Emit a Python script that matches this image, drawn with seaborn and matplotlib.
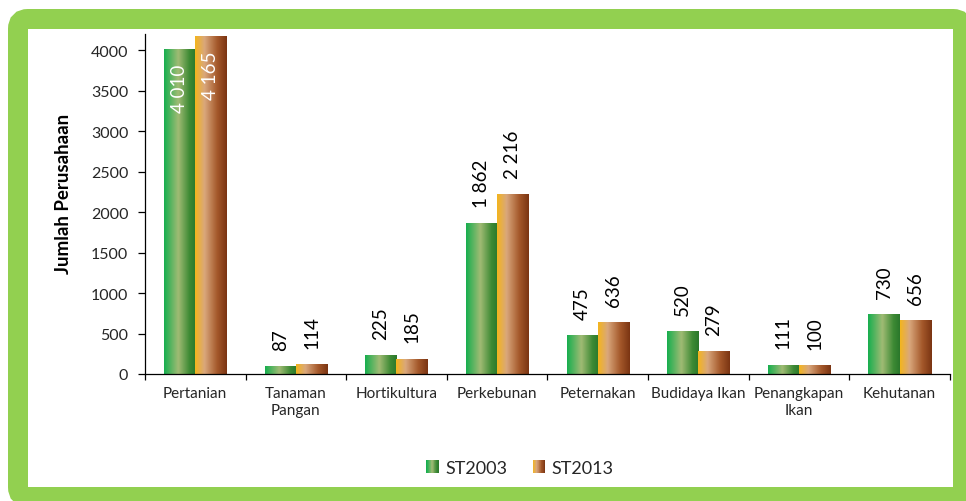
import numpy as np
import pandas as pd
import matplotlib
matplotlib.use("Agg")
import matplotlib.pyplot as plt
import seaborn as sns
from matplotlib.patches import FancyBboxPatch, Rectangle
from matplotlib.legend_handler import HandlerBase
from matplotlib.colors import LinearSegmentedColormap
from matplotlib.transforms import IdentityTransform

# --- data -------------------------------------------------------------
categories = ["Pertanian", "Tanaman\nPangan", "Hortikultura", "Perkebunan",
              "Peternakan", "Budidaya Ikan", "Penangkapan\nIkan", "Kehutanan"]
series = ["ST2003", "ST2013"]
st2003 = [4010, 87, 225, 1862, 475, 520, 111, 730]
st2013 = [4165, 114, 185, 2216, 636, 279, 100, 656]
y_ticks = [0, 500, 1000, 1500, 2000, 2500, 3000, 3500, 4000]
y_label = "Jumlah Perusahaan"

df = pd.DataFrame({
    "Kategori": categories * 2,
    "Sensus": [series[0]] * len(categories) + [series[1]] * len(categories),
    "Jumlah": st2003 + st2013,
})

# --- styling ----------------------------------------------------------
sns.set_theme(style="white")
plt.rcParams["font.family"] = ["Lato", "DejaVu Sans"]

green_cmap = LinearSegmentedColormap.from_list(
    "hijau", [(0.0, "#16ae4e"), (0.45, "#a0bb74"), (0.8, "#3d8a34"), (1.0, "#2a772b")])
orange_cmap = LinearSegmentedColormap.from_list(
    "jingga", [(0.0, "#f4b51c"), (0.3, "#d9a77c"), (0.7, "#a4582a"), (1.0, "#7a3412")])
cmaps = [green_cmap, orange_cmap]

fig = plt.figure(figsize=(9.66, 5.02), dpi=100)
fig.patch.set_facecolor("white")
ax = fig.add_axes([0.150, 0.253, 0.8334, 0.677])

sns.barplot(data=df, x="Kategori", y="Jumlah", hue="Sensus",
            order=categories, hue_order=series,
            palette=["#5aa84e", "#c07840"], saturation=1,
            width=0.62, gap=0, legend=False, errorbar=None, ax=ax)

# replace flat bars with horizontal gradients and add rotated value labels
grad = np.linspace(0, 1, 256).reshape(1, -1)
for container, cmap in zip(ax.containers, cmaps):
    for bar in container:
        x0 = bar.get_x()
        w = bar.get_width()
        h = bar.get_height()
        ax.imshow(grad, extent=[x0, x0 + w, 0, h], cmap=cmap, aspect="auto",
                  interpolation="bilinear", zorder=2)
        bar.set_visible(False)
        label = f"{int(round(h)):,}".replace(",", " ")
        cx = x0 + w / 2
        if h > 3000:
            ax.annotate(label, xy=(cx, h), xytext=(0, -10), textcoords="offset points",
                        rotation=90, ha="center", va="top", color="white",
                        fontsize=13.5, zorder=3)
        else:
            ax.annotate(label, xy=(cx, h), xytext=(0, 12), textcoords="offset points",
                        rotation=90, ha="center", va="bottom", color="black",
                        fontsize=13.5, zorder=3)

ax.set_xlim(-0.5, len(categories) - 0.5)
ax.set_ylim(0, 4200)
ax.set_yticks(y_ticks)
ax.set_yticklabels([str(t) for t in y_ticks])
ax.set_xticks(range(len(categories)))
ax.set_xticklabels(categories, ha="center")
ax.set_xticks(np.arange(-0.5, len(categories)), minor=True)

ax.set_xlabel("")
ax.set_ylabel(y_label, fontsize=13.5, fontweight="bold", color="black")
ax.yaxis.set_label_coords(-0.091, 0.532)

for side in ["top", "right"]:
    ax.spines[side].set_visible(False)
for side in ["left", "bottom"]:
    ax.spines[side].set_color("black")
    ax.spines[side].set_linewidth(0.9)

ax.tick_params(axis="y", which="major", direction="out", length=5, width=0.9,
               color="black", pad=7, labelsize=11.5, labelcolor="#262626", left=True)
ax.tick_params(axis="x", which="major", length=0, pad=9, labelsize=11,
               labelcolor="#262626", bottom=True)
ax.tick_params(axis="x", which="minor", direction="out", length=4, width=0.9,
               color="black", bottom=True)


class GradientHandle(HandlerBase):
    def __init__(self, cmap, n=30):
        super().__init__()
        self.cmap = cmap
        self.n = n

    def create_artists(self, legend, orig_handle, xdescent, ydescent,
                       width, height, fontsize, trans):
        pieces = []
        for i in range(self.n):
            r = Rectangle((-xdescent + width * i / self.n, -ydescent),
                          width / self.n * 1.05, height,
                          facecolor=self.cmap(i / (self.n - 1)),
                          edgecolor="none", transform=trans)
            pieces.append(r)
        return pieces


handles = [Rectangle((0, 0), 1, 1), Rectangle((0, 0), 1, 1)]
fig.legend(handles, series,
           handler_map={handles[0]: GradientHandle(green_cmap),
                        handles[1]: GradientHandle(orange_cmap)},
           loc="center", bbox_to_anchor=(520 / 966, 1 - 469 / 502),
           ncol=2, frameon=False, fontsize=13, handlelength=0.7,
           handleheight=0.75, handletextpad=0.35, columnspacing=1.4,
           labelcolor="#262626")

# green frame around the whole chart
frame = FancyBboxPatch((18, 4), 945, 478,
                       boxstyle="round,pad=0,rounding_size=10",
                       transform=IdentityTransform(), fill=False,
                       edgecolor="#92d050", linewidth=20 * 0.72, zorder=10)
fig.add_artist(frame)

fig.savefig("out.png", dpi=100)
